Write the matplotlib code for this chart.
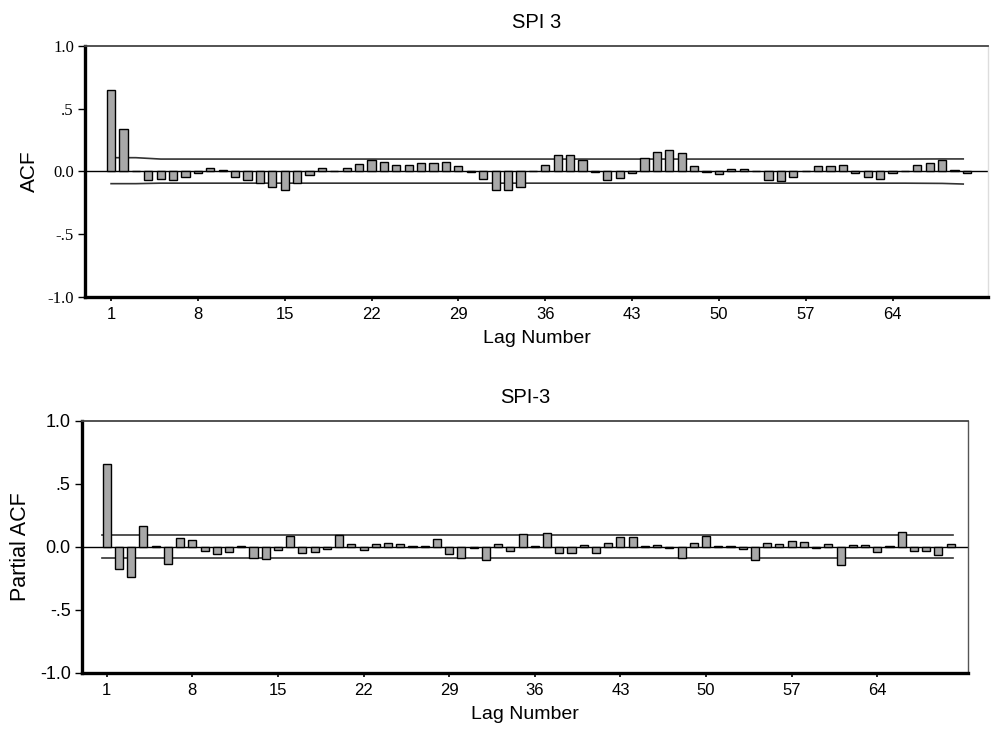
import numpy as np
import matplotlib
matplotlib.use("Agg")
import matplotlib.pyplot as plt

# lags 1..70
lags = np.arange(1, 71)

acf = [0.65, 0.337, 0.005, -0.066, -0.056, -0.066, -0.04, -0.01, 0.027, 0.01,
       -0.04, -0.066, -0.095, -0.12, -0.149, -0.09, -0.027, 0.027, 0.005, 0.027,
       0.061, 0.088, 0.075, 0.053, 0.053, 0.066, 0.066, 0.072, 0.045, -0.005,
       -0.06, -0.15, -0.145, -0.12, 0.0, 0.048, 0.133, 0.133, 0.088, -0.005,
       -0.07, -0.053, -0.01, 0.11, 0.157, 0.173, 0.146, 0.043, -0.005, -0.02,
       0.02, 0.02, 0.005, -0.064, -0.072, -0.045, 0.005, 0.043, 0.043, 0.053,
       -0.01, -0.045, -0.058, -0.015, 0.005, 0.055, 0.07, 0.088, 0.015, -0.015]

pacf = [0.656, -0.177, -0.238, 0.164, 0.005, -0.132, 0.071, 0.058, -0.034, -0.058,
        -0.04, 0.01, -0.085, -0.095, -0.02, 0.09, -0.045, -0.037, -0.016, 0.095,
        0.021, -0.026, 0.021, 0.034, 0.024, 0.005, 0.005, 0.066, -0.058, -0.085,
        -0.008, -0.106, 0.026, -0.034, 0.1, 0.01, 0.111, -0.048, -0.048, 0.018,
        -0.048, 0.034, 0.08, 0.08, 0.005, 0.018, -0.008, -0.087, 0.032, 0.087,
        0.005, 0.005, -0.018, -0.1, 0.034, 0.024, 0.045, 0.04, -0.005, 0.024,
        -0.14, 0.016, 0.016, -0.04, 0.005, 0.116, -0.034, -0.034, -0.06, 0.021]

# confidence limits
acf_conf_x = [1, 3, 5, 65, 68, 69.7]
acf_conf_up = [0.11, 0.11, 0.099, 0.099, 0.1, 0.1]
acf_conf_lo = [-0.097, -0.097, -0.093, -0.093, -0.095, -0.1]
pacf_conf_x = [0.6, 70.2]
pacf_conf_up = [0.092, 0.092]
pacf_conf_lo = [-0.09, -0.09]

xticks = [1, 8, 15, 22, 29, 36, 43, 50, 57, 64]
yticks = [-1.0, -0.5, 0.0, 0.5, 1.0]
ytick_labels = ["-1.0", "-.5", "0.0", ".5", "1.0"]

sans = "Liberation Sans"
serif = "Liberation Serif"

fig = plt.figure(figsize=(9.97, 7.36), dpi=100)


def draw(ax, vals, cx, cup, clo, xlim, tickfont, ticksize, ylabel, ylsize, title, right_col):
    ax.bar(lags, vals, width=0.66, color="#a8a8a8", edgecolor="black", linewidth=1.0, zorder=3)
    ax.axhline(0, color="black", lw=1.0, zorder=2)
    ax.plot(cx, cup, color="#333333", lw=1.2, zorder=2)
    ax.plot(cx, clo, color="#333333", lw=1.2, zorder=2)
    ax.set_xlim(*xlim)
    ax.set_ylim(-1.0, 1.0)
    ax.set_xticks(xticks)
    ax.set_xticklabels([str(t) for t in xticks], fontname=sans, fontsize=12)
    ax.set_yticks(yticks)
    ax.set_yticklabels(ytick_labels, fontname=tickfont, fontsize=ticksize)
    ax.tick_params(axis="x", length=3, width=1.2, pad=4)
    ax.tick_params(axis="y", length=5, width=1.0, pad=3)
    for s in ["left", "bottom"]:
        ax.spines[s].set_linewidth(2.4)
    ax.spines["top"].set_linewidth(1.3)
    ax.spines["top"].set_color("#444444")
    ax.spines["right"].set_linewidth(1.0)
    ax.spines["right"].set_color(right_col)
    ax.set_xlabel("Lag Number", fontname=sans, fontsize=14, labelpad=6)
    ax.set_ylabel(ylabel, fontname=sans, fontsize=ylsize, labelpad=6)
    ax.set_title(title, fontname=sans, fontsize=14.5, pad=13)


ax1 = fig.add_axes([0.0853, 0.5965, 0.9057, 0.341])
draw(ax1, acf, acf_conf_x, acf_conf_up, acf_conf_lo, (-1.1, 71.7), serif, 12,
     "ACF", 15, "SPI 3", "#dddddd")

ax2 = fig.add_axes([0.082, 0.0856, 0.8887, 0.3424])
draw(ax2, pacf, pacf_conf_x, pacf_conf_up, pacf_conf_lo, (-1.04, 71.4), sans, 13,
     "Partial ACF", 15.5, "SPI-3", "#555555")

fig.savefig("out.png", dpi=100)
